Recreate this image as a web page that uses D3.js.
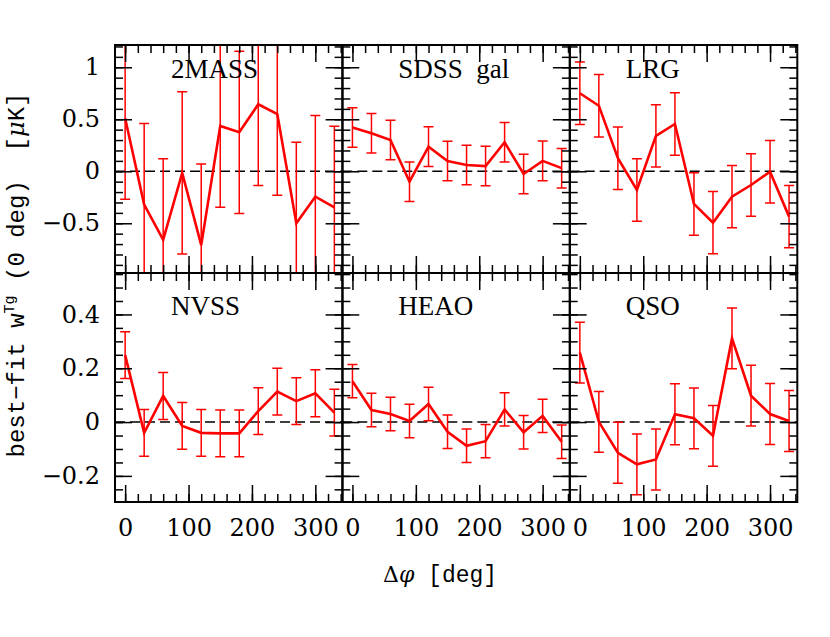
<!DOCTYPE html>
<html>
<head>
<meta charset="utf-8">
<script src="https://cdn.jsdelivr.net/npm/d3@7"></script>
<style>
  html, body { margin: 0; padding: 0; background: #fff; }
  svg { display: block; }
</style>
</head>
<body>
<svg id="chart" width="830" height="637"></svg>
<script>
// ---------------- data ----------------
const angles = [0, 30, 60, 90, 120, 150, 180, 210, 240, 270, 300, 330];
const panelNames = ["2MASS", "SDSS  gal", "LRG", "NVSS", "HEAO", "QSO"];

const val2MASS = [0.51, -0.32, -0.66, -0.015, -0.71, 0.435, 0.375, 0.644, 0.55, -0.50, -0.244, -0.346];
const err2MASS = [0.78, 0.78, 0.78, 0.78, 0.78, 0.78, 0.78, 0.78, 0.78, 0.78, 0.78, 0.78];
const valSDSS  = [0.42, 0.365, 0.30, -0.10, 0.237, 0.099, 0.06, 0.05, 0.279, -0.026, 0.10, 0.03];
const errSDSS  = [0.19, 0.19, 0.19, 0.19, 0.19, 0.19, 0.19, 0.19, 0.19, 0.19, 0.19, 0.19];
const valLRG   = [0.75, 0.63, 0.125, -0.18, 0.34, 0.455, -0.314, -0.494, -0.244, -0.132, -0.004, -0.436];
const errLRG   = [0.30, 0.30, 0.30, 0.30, 0.30, 0.30, 0.30, 0.30, 0.30, 0.30, 0.30, 0.30];
const valNVSS  = [0.249, -0.04, 0.097, -0.014, -0.04, -0.042, -0.042, 0.041, 0.113, 0.078, 0.107, 0.035];
const errNVSS  = [0.087, 0.087, 0.087, 0.087, 0.087, 0.087, 0.087, 0.087, 0.087, 0.087, 0.087, 0.087];
const valHEAO  = [0.152, 0.045, 0.03, 0.004, 0.067, -0.036, -0.088, -0.071, 0.047, -0.038, 0.023, -0.073];
const errHEAO  = [0.062, 0.062, 0.062, 0.062, 0.062, 0.062, 0.062, 0.062, 0.062, 0.062, 0.062, 0.062];
const valQSO   = [0.258, 0.001, -0.114, -0.157, -0.139, 0.029, 0.014, -0.051, 0.311, 0.098, 0.03, 0.004];
const errQSO   = [0.113, 0.113, 0.113, 0.113, 0.113, 0.113, 0.113, 0.113, 0.113, 0.113, 0.113, 0.113];

const xTicks = [0, 100, 200, 300];
const xTickLabels = ["0", "100", "200", "300"];
const yTicksTop = [-0.5, 0, 0.5, 1];
const yTickLabelsTop = ["\u22120.5", "0", "0.5", "1"];
const yTicksBottom = [-0.2, 0, 0.2, 0.4];
const yTickLabelsBottom = ["\u22120.2", "0", "0.2", "0.4"];

const panelVals = [val2MASS, valSDSS, valLRG, valNVSS, valHEAO, valQSO];
const panelErrs = [err2MASS, errSDSS, errLRG, errNVSS, errHEAO, errQSO];

// ---------------- layout ----------------
const svg = d3.select("#chart");
const colX = [115, 342.3, 569.7];
const panelW = 227.6;
const rowTop = [45, 273];
const rowBot = [273, 502];
const MAJ = 17, MIN = 8;
const red = "#ff0000";

const yDomains = [[-0.978, 1.214], [-0.297, 0.554]];
const yMinor = [d3.range(-9, 13).map(i => i / 10), d3.range(-5, 12).map(i => i / 20)];
const yMajor = [yTicksTop, yTicksBottom];
const yLabels = [yTickLabelsTop, yTickLabelsBottom];
const xMinor = d3.range(0, 21).map(i => i * 20).filter(v => v <= 343);

const tickFont = "'DejaVu Serif', serif";
const defs = svg.append("defs");

for (let p = 0; p < 6; p++) {
  const row = Math.floor(p / 3), col = p % 3;
  const x0 = colX[col], x1 = x0 + panelW;
  const y0 = rowTop[row], y1 = rowBot[row];
  const x = d3.scaleLinear().domain([-16, 343]).range([x0, x1]);
  const y = d3.scaleLinear().domain(yDomains[row]).range([y1, y0]);
  const g = svg.append("g");

  defs.append("clipPath").attr("id", "clip" + p)
    .append("rect").attr("x", x0).attr("y", y0).attr("width", panelW).attr("height", y1 - y0);

  // zero dashed line
  g.append("line")
    .attr("x1", x0).attr("x2", x1).attr("y1", y(0)).attr("y2", y(0))
    .attr("stroke", "#000").attr("stroke-width", 1.5).attr("stroke-dasharray", "10,5");

  // data
  const vals = panelVals[p], errs = panelErrs[p];
  const pts = angles.map((a, i) => ({ a, v: vals[i], e: errs[i] }));
  const dg = g.append("g").attr("clip-path", `url(#clip${p})`);
  const eb = dg.selectAll("g.eb").data(pts).enter().append("g")
    .attr("stroke", red).attr("stroke-width", 1.5);
  eb.append("line").attr("x1", d => x(d.a)).attr("x2", d => x(d.a))
    .attr("y1", d => y(d.v - d.e)).attr("y2", d => y(d.v + d.e));
  eb.append("line").attr("x1", d => x(d.a) - 5).attr("x2", d => x(d.a) + 5)
    .attr("y1", d => y(d.v + d.e)).attr("y2", d => y(d.v + d.e));
  eb.append("line").attr("x1", d => x(d.a) - 5).attr("x2", d => x(d.a) + 5)
    .attr("y1", d => y(d.v - d.e)).attr("y2", d => y(d.v - d.e));
  dg.append("path").datum(pts)
    .attr("fill", "none").attr("stroke", red).attr("stroke-width", 2.6)
    .attr("stroke-linejoin", "miter")
    .attr("d", d3.line().x(d => x(d.a)).y(d => y(d.v)));

  // axes (ticks inward on all four sides)
  const styleAxis = sel => {
    sel.select(".domain").remove();
    sel.selectAll(".tick line").attr("stroke", "#000").attr("stroke-width", 1.5);
    sel.selectAll("text").attr("font-family", tickFont).attr("font-size", 24).attr("fill", "#000");
  };
  // bottom
  g.append("g").attr("transform", `translate(0,${y1})`)
    .call(d3.axisBottom(x).tickValues(xMinor).tickSizeInner(-MIN).tickSizeOuter(0).tickFormat(""))
    .call(styleAxis);
  g.append("g").attr("transform", `translate(0,${y1})`)
    .call(d3.axisBottom(x).tickValues(xTicks).tickSizeInner(-MAJ).tickSizeOuter(0).tickPadding(17)
      .tickFormat((d, i) => row === 1 ? xTickLabels[i] : ""))
    .call(styleAxis);
  // top
  g.append("g").attr("transform", `translate(0,${y0})`)
    .call(d3.axisTop(x).tickValues(xMinor).tickSizeInner(-MIN).tickSizeOuter(0).tickFormat(""))
    .call(styleAxis);
  g.append("g").attr("transform", `translate(0,${y0})`)
    .call(d3.axisTop(x).tickValues(xTicks).tickSizeInner(-MAJ).tickSizeOuter(0).tickFormat(""))
    .call(styleAxis);
  // left
  g.append("g").attr("transform", `translate(${x0},0)`)
    .call(d3.axisLeft(y).tickValues(yMinor[row]).tickSizeInner(-MIN).tickSizeOuter(0).tickFormat(""))
    .call(styleAxis);
  g.append("g").attr("transform", `translate(${x0},0)`)
    .call(d3.axisLeft(y).tickValues(yMajor[row]).tickSizeInner(-MAJ).tickSizeOuter(0).tickPadding(15)
      .tickFormat((d, i) => col === 0 ? yLabels[row][i] : ""))
    .call(styleAxis);
  // right
  g.append("g").attr("transform", `translate(${x1},0)`)
    .call(d3.axisRight(y).tickValues(yMinor[row]).tickSizeInner(-MIN).tickSizeOuter(0).tickFormat(""))
    .call(styleAxis);
  g.append("g").attr("transform", `translate(${x1},0)`)
    .call(d3.axisRight(y).tickValues(yMajor[row]).tickSizeInner(-MAJ).tickSizeOuter(0).tickFormat(""))
    .call(styleAxis);

  // frame
  g.append("rect").attr("x", x0).attr("y", y0).attr("width", panelW).attr("height", y1 - y0)
    .attr("fill", "none").attr("stroke", "#000").attr("stroke-width", 2);

  // panel label
  g.append("text")
    .attr("x", x0 + 56).attr("y", row === 0 ? y0 + 33 : y0 + 42)
    .attr("font-family", "'Liberation Serif', 'Times New Roman', serif")
    .attr("font-size", 27).attr("fill", "#000")
    .style("white-space", "pre")
    .text(panelNames[p]);
}

// x axis title
const xt = svg.append("text").attr("x", 383).attr("y", 582).attr("fill", "#000");
xt.append("tspan").attr("font-family", "'DejaVu Serif', serif").attr("font-size", 22).text("\u0394");
xt.append("tspan").attr("font-family", "'DejaVu Serif', serif").attr("font-style", "italic").attr("font-size", 22).text("\u03C6");
xt.append("tspan").attr("font-family", "'Liberation Mono', monospace").attr("font-size", 23)
  .style("white-space", "pre").text(" [deg]");

// y axis title
const yt = svg.append("text")
  .attr("transform", "translate(24,275) rotate(-90)")
  .attr("text-anchor", "middle")
  .attr("font-family", "'Liberation Mono', monospace")
  .attr("font-size", 24).attr("fill", "#000")
  .style("white-space", "pre");
yt.append("tspan").text("best\u2212fit w");
yt.append("tspan").attr("font-size", 15).attr("dy", -10).text("Tg");
yt.append("tspan").attr("dy", 10).text(" (0 deg)  [");
yt.append("tspan").attr("font-family", "'DejaVu Serif', serif").attr("font-style", "italic").text("\u03BC");
yt.append("tspan").text("K]");
</script>
</body>
</html>
